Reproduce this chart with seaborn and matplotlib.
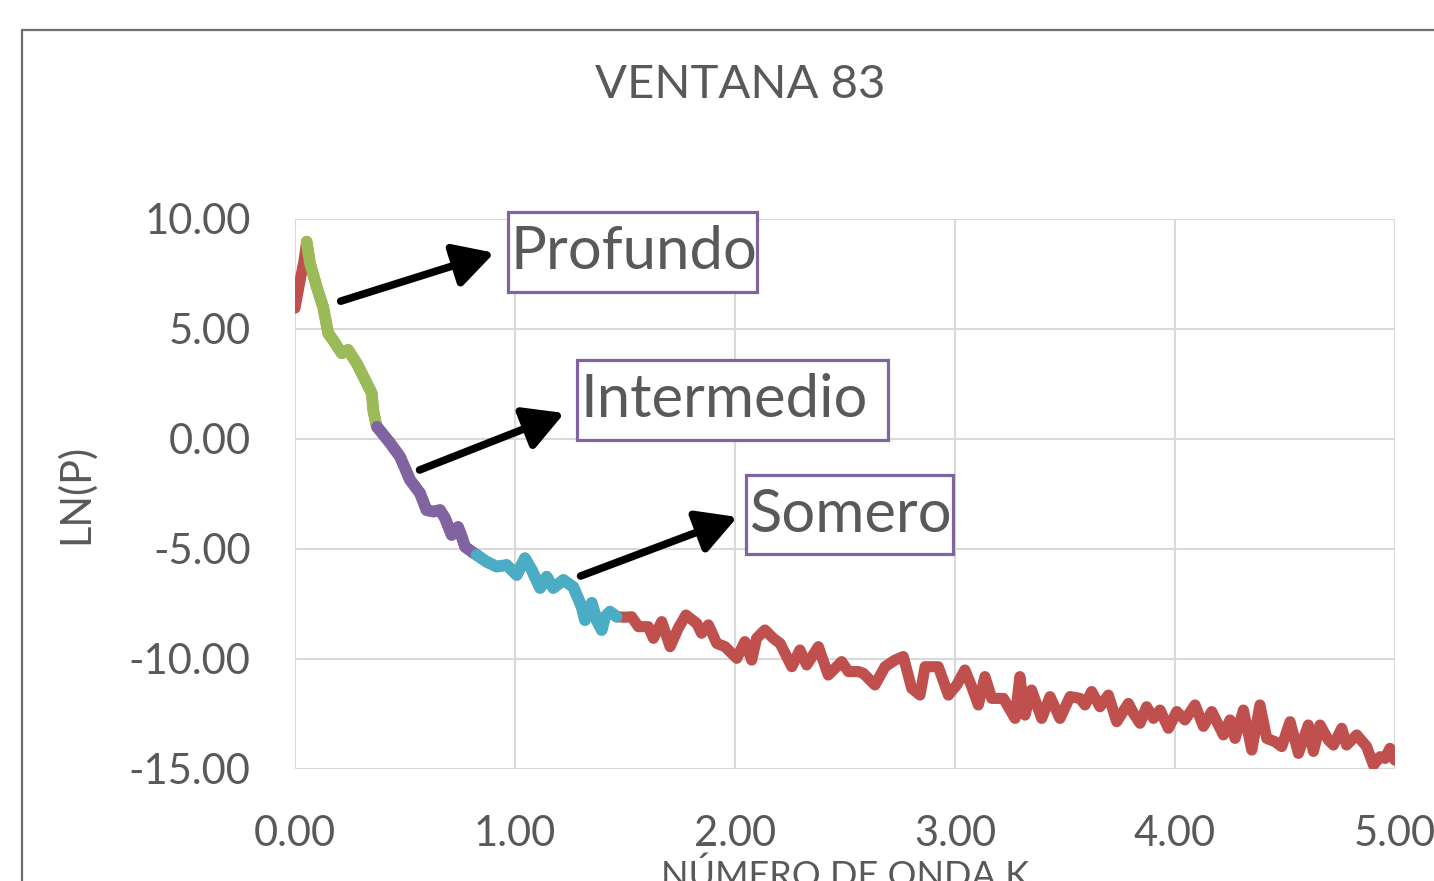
import numpy as np
import pandas as pd
import matplotlib
matplotlib.use("Agg")
import matplotlib.pyplot as plt
from matplotlib.patches import Rectangle, FancyArrowPatch
import seaborn as sns

# ---------------- data ----------------
k_values = [0.000, 0.023, 0.041, 0.053, 0.068, 0.099, 0.128, 0.151, 0.173, 0.212,
            0.241, 0.280, 0.318, 0.349, 0.356, 0.368, 0.373, 0.432, 0.477, 0.523,
            0.568, 0.598, 0.629, 0.659, 0.682, 0.712, 0.741, 0.758, 0.773, 0.803,
            0.826, 0.871, 0.917, 0.962, 1.008, 1.045, 1.076, 1.114, 1.144, 1.174,
            1.220, 1.265, 1.303, 1.318, 1.349, 1.371, 1.394, 1.409, 1.432, 1.462,
            1.500, 1.530, 1.561, 1.606, 1.629, 1.667, 1.705, 1.742, 1.777, 1.826,
            1.848, 1.879, 1.917, 1.955, 2.008, 2.045, 2.076, 2.098, 2.136, 2.174,
            2.205, 2.258, 2.295, 2.326, 2.379, 2.424, 2.485, 2.515, 2.561, 2.583,
            2.636, 2.682, 2.727, 2.765, 2.803, 2.841, 2.864, 2.894, 2.924, 2.970,
            3.008, 3.045, 3.076, 3.106, 3.136, 3.167, 3.220, 3.273, 3.295, 3.318,
            3.348, 3.394, 3.432, 3.477, 3.523, 3.568, 3.591, 3.621, 3.659, 3.697,
            3.735, 3.788, 3.811, 3.841, 3.871, 3.902, 3.932, 3.970, 4.008, 4.045,
            4.091, 4.129, 4.167, 4.220, 4.250, 4.273, 4.311, 4.349, 4.386, 4.417,
            4.455, 4.485, 4.523, 4.561, 4.606, 4.629, 4.659, 4.697, 4.720, 4.758,
            4.780, 4.826, 4.871, 4.902, 4.932, 4.955, 4.977, 5.000]
ln_p = [5.95, 7.20, 8.10, 8.97, 8.00, 6.90, 6.00, 4.80, 4.50, 3.90,
        4.05, 3.45, 2.70, 2.08, 1.30, 0.70, 0.55, -0.18, -0.80, -1.86,
        -2.46, -3.23, -3.30, -3.23, -3.60, -4.36, -4.00, -4.44, -4.90, -5.12,
        -5.27, -5.58, -5.80, -5.73, -6.18, -5.42, -5.95, -6.77, -6.26, -6.77,
        -6.41, -6.73, -7.62, -8.23, -7.45, -8.23, -8.68, -8.08, -7.85, -8.08,
        -8.10, -8.08, -8.53, -8.53, -9.06, -8.30, -9.44, -8.60, -8.00, -8.38,
        -8.83, -8.45, -9.29, -9.44, -9.97, -9.21, -10.05, -9.06, -8.68, -9.06,
        -9.29, -10.35, -9.59, -10.27, -9.44, -10.73, -10.12, -10.57, -10.57, -10.65,
        -11.18, -10.35, -10.05, -9.89, -11.33, -11.64, -10.35, -10.35, -10.35, -11.64,
        -11.18, -10.50, -11.26, -12.09, -10.80, -11.79, -11.79, -12.70, -10.80, -12.55,
        -11.41, -12.70, -11.71, -12.70, -11.71, -11.79, -12.09, -11.48, -12.17, -11.64,
        -12.85, -12.02, -12.47, -12.92, -12.17, -12.70, -12.32, -13.15, -12.39, -12.77,
        -12.09, -13.06, -12.39, -13.45, -12.77, -13.61, -12.32, -14.14, -12.09, -13.61,
        -13.76, -13.98, -12.85, -14.29, -13.00, -14.20, -13.00, -13.68, -13.91, -13.15,
        -13.91, -13.45, -13.98, -14.82, -14.44, -14.52, -14.06, -14.60]

# segment limits (k range) for the highlighted series
profundo_range = (0.053, 0.373)
intermedio_range = (0.373, 0.826)
somero_range = (0.826, 1.462)

title = "VENTANA 83"
x_label = "NÚMERO DE ONDA K"
y_label = "LN(P)"
x_ticks = [0, 1, 2, 3, 4, 5]
y_ticks = [-15, -10, -5, 0, 5, 10]
labels = ["Profundo", "Intermedio", "Somero"]

# ---------------- plot ----------------
sns.set_theme(style="white")
plt.rcParams['font.family'] = ['Lato', 'DejaVu Sans']
TXT = "#595959"
RED, GREEN, PURPLE, CYAN = "#C0504D", "#9BBB59", "#8064A2", "#4BACC6"

W, H = 1434, 881
fig = plt.figure(figsize=(W / 100, H / 100), dpi=100)
ax = fig.add_axes([295 / W, 1 - 769 / H, 1100 / W, 550 / H])

df = pd.DataFrame({"k": k_values, "lnp": ln_p})

def seg(r):
    return df[(df.k >= r[0] - 1e-9) & (df.k <= r[1] + 1e-9)]

sns.lineplot(data=df, x="k", y="lnp", ax=ax, color=RED, linewidth=8.0,
             estimator=None, sort=False, solid_joinstyle="round", solid_capstyle="round")
for r, c in [(profundo_range, GREEN), (intermedio_range, PURPLE), (somero_range, CYAN)]:
    sns.lineplot(data=seg(r), x="k", y="lnp", ax=ax, color=c, linewidth=8.5,
                 estimator=None, sort=False, solid_joinstyle="round", solid_capstyle="round")

ax.set_xlim(0, 5)
ax.set_ylim(-15, 10)
ax.set_xticks(x_ticks)
ax.set_yticks(y_ticks)
ax.set_xticklabels([f"{v:.2f}" for v in x_ticks])
ax.set_yticklabels([f"{v:.2f}" for v in y_ticks])
ax.grid(True, color="#d9d9d9", linewidth=1.5)
ax.set_axisbelow(True)
for s in ax.spines.values():
    s.set_visible(False)
ax.tick_params(axis="both", length=0, labelsize=30, labelcolor=TXT)
ax.tick_params(axis="y", pad=32)
ax.tick_params(axis="x", pad=33)
for lab in ax.get_xticklabels():
    lab.set_clip_on(False)
ax.set_xlabel("")
ax.set_ylabel(y_label, fontsize=30, color=TXT)
ax.yaxis.set_label_coords((95 - 295) / 1100, 0.5)

fig.text(845 / W, 1 - 887 / H, x_label, fontsize=26, color=TXT, ha="center", va="baseline")
fig.text(740 / W, 1 - 85 / H, title, fontsize=34, color=TXT, ha="center", va="center")

# chart area border
fig.patches.append(Rectangle((22 / W, -0.2), 2, 1.2 - 30 / H, transform=fig.transFigure,
                             fill=False, edgecolor="#6e6e6e", linewidth=1.6))

# label boxes (pixel coords)
boxes = [(508, 212, 757, 292), (577, 360, 888, 440), (746, 475, 953, 554)]
for (x0, y0, x1, y1), lab in zip(boxes, labels):
    fig.patches.append(Rectangle((x0 / W, 1 - y1 / H), (x1 - x0) / W, (y1 - y0) / H,
                                 transform=fig.transFigure, facecolor="white",
                                 edgecolor=PURPLE, linewidth=2.3, zorder=5))
    fig.text((x0 + 3) / W, 1 - (y0 + y1) / 2 / H, lab, fontsize=43, color=TXT,
             ha="left", va="center", zorder=6)

arrows = [((338, 302), (497, 252)), ((417, 471), (567, 412)), ((578, 577), (740, 516))]
for (a, b) in arrows:
    ap = FancyArrowPatch((a[0] / W, 1 - a[1] / H), (b[0] / W, 1 - b[1] / H),
                         transform=fig.transFigure, arrowstyle="-|>,head_length=1.0,head_width=0.55",
                         mutation_scale=24, color="black", linewidth=5.5, zorder=7)
    fig.patches.append(ap)

fig.savefig("out.png", dpi=100)
